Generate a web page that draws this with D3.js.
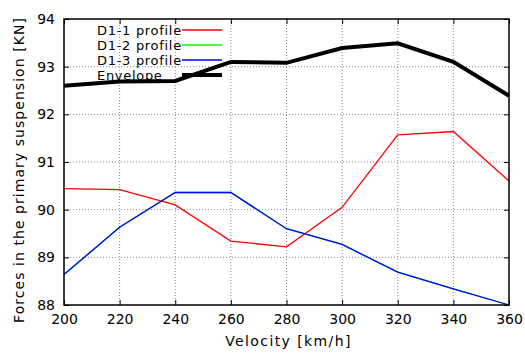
<!DOCTYPE html>
<html>
<head>
<meta charset="utf-8">
<script src="https://cdn.jsdelivr.net/npm/d3@7"></script>
<style>
  body { margin: 0; background: #fff; }
  text { font-family: "DejaVu Sans", sans-serif; }
</style>
</head>
<body>
<svg id="chart" width="525" height="354"></svg>
<script>
const velocities = [200, 220, 240, 260, 280, 300, 320, 340, 360];
const d11 = [90.44, 90.42, 90.1, 89.34, 89.22, 90.05, 91.57, 91.64, 90.6];
const d13 = [88.64, 89.63, 90.36, 90.36, 89.6, 89.27, 88.69, 88.34, 88.0];
const d12 = d13; // green profile hidden under the blue one
const envelope = [92.6, 92.69, 92.7, 93.1, 93.08, 93.39, 93.49, 93.1, 92.39];
const xTicks = [200, 220, 240, 260, 280, 300, 320, 340, 360];
const yTicks = [88, 89, 90, 91, 92, 93, 94];

const series = [
  { name: 'D1-1 profile', values: d11, color: '#ff0000', width: 1.3 },
  { name: 'D1-2 profile', values: d12, color: '#00ff00', width: 1.3 },
  { name: 'D1-3 profile', values: d13, color: '#0000ff', width: 1.3 },
  { name: 'Envelope', values: envelope, color: '#000000', width: 4 }
];

const margin = { left: 64, right: 16, top: 19, bottom: 49 };
const W = 525, H = 354;
const svg = d3.select('#chart');
const g = svg.append('g').attr('transform', `translate(${margin.left},${margin.top})`);
const w = W - margin.left - margin.right;
const h = H - margin.top - margin.bottom;

const x = d3.scaleLinear().domain([200, 360]).range([0, w]);
const y = d3.scaleLinear().domain([88, 94]).range([h, 0]);

// grid
g.append('g').selectAll('line').data(xTicks.slice(1, -1)).enter().append('line')
  .attr('x1', d => x(d)).attr('x2', d => x(d)).attr('y1', 0).attr('y2', h)
  .attr('stroke', '#888').attr('stroke-width', 1).attr('stroke-dasharray', '1,2');
g.append('g').selectAll('line').data(yTicks.slice(1, -1)).enter().append('line')
  .attr('x1', 0).attr('x2', w).attr('y1', d => y(d)).attr('y2', d => y(d))
  .attr('stroke', '#888').attr('stroke-width', 1).attr('stroke-dasharray', '1,2');

// axes (ticks inward, mirrored)
const tick = 5;
g.append('g').attr('transform', `translate(0,${h})`)
  .call(d3.axisBottom(x).tickValues(xTicks).tickSize(-tick).tickPadding(9).tickFormat(d3.format('d')));
g.append('g')
  .call(d3.axisTop(x).tickValues(xTicks).tickSize(-tick).tickFormat(''));
g.append('g')
  .call(d3.axisLeft(y).tickValues(yTicks).tickSize(-tick).tickPadding(9).tickFormat(d3.format('d')));
g.append('g').attr('transform', `translate(${w},0)`)
  .call(d3.axisRight(y).tickValues(yTicks).tickSize(-tick).tickFormat(''));
g.selectAll('.domain').remove();
g.selectAll('.tick line').attr('stroke', '#000');
g.selectAll('.tick text').attr('font-size', 14).attr('fill', '#000')
  .attr('font-family', '"DejaVu Sans Condensed", "DejaVu Sans", sans-serif');

// lines
const line = d3.line().x((d, i) => x(velocities[i])).y(d => y(d));
series.forEach(s => {
  g.append('path').datum(s.values)
    .attr('fill', 'none').attr('stroke', s.color).attr('stroke-width', s.width)
    .attr('stroke-linejoin', 'miter').attr('d', line);
});

// frame
g.append('rect').attr('width', w).attr('height', h)
  .attr('fill', 'none').attr('stroke', '#000').attr('stroke-width', 1.5);

// legend
const legend = g.append('g').attr('transform', 'translate(33,11)');
series.forEach((s, i) => {
  const row = legend.append('g').attr('transform', `translate(0,${i * 15})`);
  row.append('text').attr('x', 0).attr('y', 0).attr('dy', '0.35em')
    .attr('font-size', 13).attr('letter-spacing', 0.7).attr('fill', '#000').text(s.name);
  row.append('line').attr('x1', 85).attr('x2', 125).attr('y1', 0).attr('y2', 0)
    .attr('stroke', s.color).attr('stroke-width', s.width);
});

// axis labels
svg.append('text').attr('x', margin.left + w / 2 + 2).attr('y', 346)
  .attr('text-anchor', 'middle').attr('font-size', 14).attr('letter-spacing', 1.4)
  .text('Velocity [km/h]');
svg.append('text').attr('transform', `translate(24,${margin.top + h / 2 + 8}) rotate(-90)`)
  .attr('text-anchor', 'middle').attr('font-size', 14).attr('letter-spacing', 1.05)
  .text('Forces in the primary suspension [KN]');
</script>
</body>
</html>
